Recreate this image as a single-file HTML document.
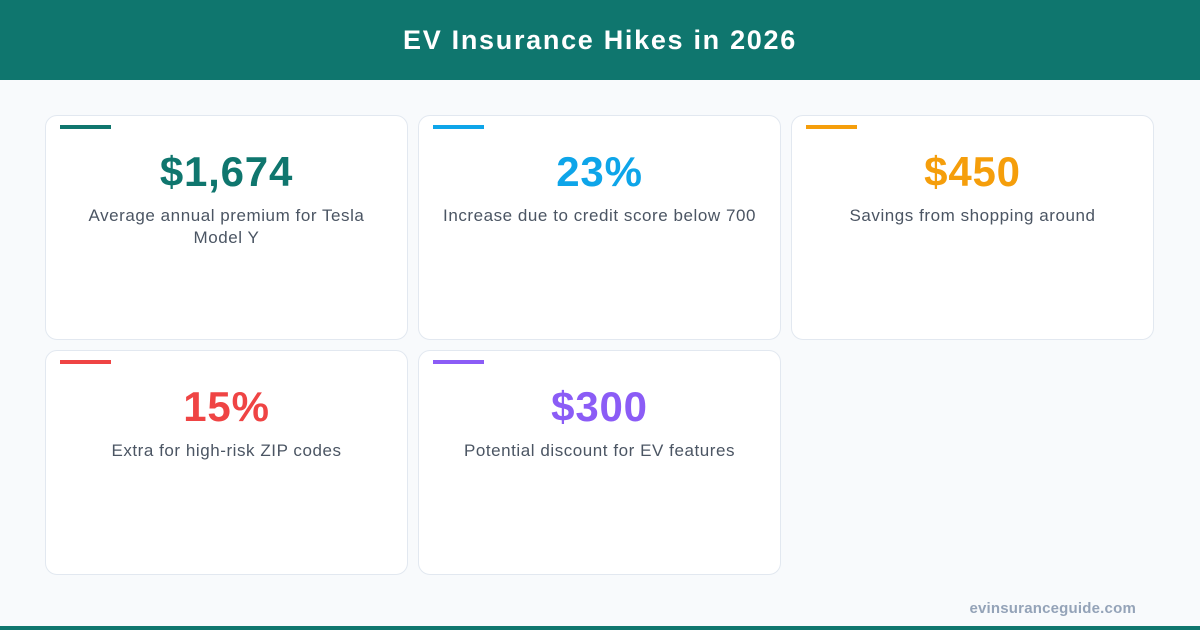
<!DOCTYPE html>
<html><head><style>
*{margin:0;padding:0;box-sizing:border-box}
body{width:1200px;height:630px;background:#f8fafc;font-family:"Liberation Sans",sans-serif;position:relative;overflow:hidden}
.hdr{position:absolute;left:0;top:0;width:1200px;height:80px;background:#0f766e;color:#fff;font-weight:bold;font-size:27px;letter-spacing:1.7px;text-align:center;line-height:80px}
.card{position:absolute;width:363px;height:225px;background:#fff;border:1px solid #e2e8f0;border-radius:12px}
.bar{position:absolute;left:14px;top:9px;width:51px;height:4px}
.num{position:absolute;top:32px;left:0;width:100%;text-align:center;font-size:42px;font-weight:bold;letter-spacing:0.8px;line-height:48px}
.desc{position:absolute;top:89px;left:0;right:0;text-align:center;font-size:17px;letter-spacing:0.55px;color:#4b5563;line-height:22px;white-space:nowrap}
.foot{position:absolute;right:64px;top:600px;font-size:15px;font-weight:bold;color:#94a3b8;letter-spacing:0.2px}
.bot{position:absolute;left:0;top:626px;width:1200px;height:4px;background:#0f766e}
</style></head><body>
<div class="hdr">EV Insurance Hikes in 2026</div>
<div class="card" style="left:45px;top:115px"><div class="bar" style="background:#0f766e"></div><div class="num" style="color:#0f766e">$1,674</div><div class="desc">Average annual premium for Tesla<br>Model Y</div></div>
<div class="card" style="left:418px;top:115px"><div class="bar" style="background:#0ea5e9"></div><div class="num" style="color:#0ea5e9">23%</div><div class="desc">Increase due to credit score below 700</div></div>
<div class="card" style="left:791px;top:115px"><div class="bar" style="background:#f59e0b"></div><div class="num" style="color:#f59e0b">$450</div><div class="desc">Savings from shopping around</div></div>
<div class="card" style="left:45px;top:350px"><div class="bar" style="background:#ef4444"></div><div class="num" style="color:#ef4444">15%</div><div class="desc">Extra for high-risk ZIP codes</div></div>
<div class="card" style="left:418px;top:350px"><div class="bar" style="background:#8b5cf6"></div><div class="num" style="color:#8b5cf6">$300</div><div class="desc">Potential discount for EV features</div></div>
<div class="foot">evinsuranceguide.com</div>
<div class="bot"></div>
</body></html>
